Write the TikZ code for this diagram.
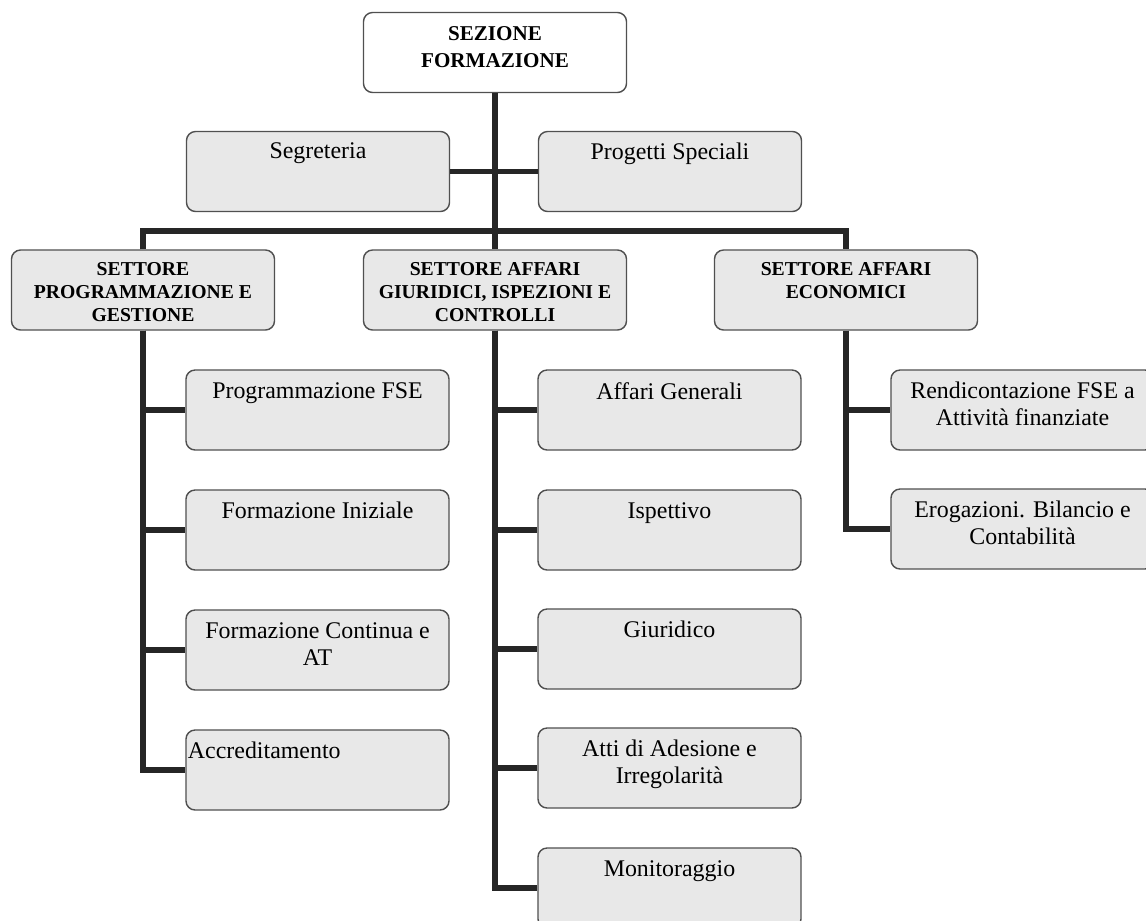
\documentclass[tikz,border=0pt]{standalone}
\usepackage{fontspec}
\setmainfont{Liberation Serif}
\usepackage{tikz}
\usetikzlibrary{positioning}

\definecolor{boxgray}{RGB}{232,232,232}
\definecolor{edgegray}{RGB}{80,80,80}
\definecolor{linkgray}{RGB}{38,38,38}

\begin{document}
\begin{tikzpicture}[x=0.025cm, y=-0.025cm,
    box/.style={draw=edgegray, line width=1pt, fill=boxgray, rounded corners=6.5pt,
        minimum width=6.575cm, minimum height=2cm, inner sep=0pt},
    txt/.style={anchor=north, align=center, inner sep=0pt, font=\fontsize{17}{19.2}\selectfont},
    headtxt/.style={txt, font=\bfseries\fontsize{14}{16.4}\selectfont},
    link/.style={draw=linkgray, line width=4.2pt}]
    \useasboundingbox (0,0) rectangle (1146,921);

    % sezione and staff
    \node[box, fill=white] (sez) at (495,52.5) {};
    \node[box] (seg) at (318,171.5) {};
    \node[box] (prog) at (670,171.5) {};

    % settori
    \node[box] (sprog) at (143,290) {};
    \node[box] (sgiur) at (495,290) {};
    \node[box] (seco) at (846,290) {};

    % uffici
    \node[box] (pfse) at (317.5,410) {};
    \node[box] (fini) at (317.5,530) {};
    \node[box] (fcon) at (317.5,650) {};
    \node[box] (accr) at (317.5,770) {};

    \node[box] (agen) at (669.5,410) {};
    \node[box] (isp) at (669.5,530) {};
    \node[box] (giur) at (669.5,649) {};
    \node[box] (atti) at (669.5,768) {};
    \node[box] (moni) at (669.5,888) {};

    \node[box] (rend) at (1022.5,410) {};
    \node[box] (erog) at (1022.5,529) {};

    % texts
    \node[headtxt, font=\bfseries\fontsize{15}{19.2}\selectfont, below=0.35cm of sez.north] (sez-t) {SEZIONE\\FORMAZIONE};
    \node[txt, below=0.3cm of seg.north] (seg-t) {Segreteria};
    \node[txt, below=0.3cm of prog.north] (prog-t) {Progetti Speciali};

    \node[headtxt, below=0.32cm of sprog.north] (sprog-t) {SETTORE\\PROGRAMMAZIONE E\\GESTIONE};
    \node[headtxt, below=0.32cm of sgiur.north] (sgiur-t) {SETTORE AFFARI\\GIURIDICI, ISPEZIONI E\\CONTROLLI};
    \node[headtxt, below=0.32cm of seco.north] (seco-t) {SETTORE AFFARI\\ECONOMICI};

    \node[txt, below=0.32cm of pfse.north] (pfse-t) {Programmazione FSE};
    \node[txt, below=0.32cm of fini.north] (fini-t) {Formazione Iniziale};
    \node[txt, below=0.32cm of fcon.north] (fcon-t) {Formazione Continua e\\AT};
    \node[txt, anchor=north west, below right=0.32cm and 0.06cm of accr.north west] (accr-t) {Accreditamento};

    \node[txt, below=0.32cm of agen.north] (agen-t) {Affari Generali};
    \node[txt, below=0.32cm of isp.north] (isp-t) {Ispettivo};
    \node[txt, below=0.32cm of giur.north] (giur-t) {Giuridico};
    \node[txt, below=0.32cm of atti.north] (atti-t) {Atti di Adesione e\\Irregolarità};
    \node[txt, below=0.32cm of moni.north] (moni-t) {Monitoraggio};

    \node[txt, below=0.32cm of rend.north] (rend-t) {Rendicontazione FSE a\\Attività finanziate};
    \node[txt, below=0.32cm of erog.north] (erog-t) {Erogazioni. Bilancio e\\Contabilità};

    % connectors
    \coordinate (bus) at (495,231);
    \draw[link] (sez) -- (sgiur);
    \draw[link] (seg) -- (prog);
    \draw[link] (sprog.north) |- (bus) -| (seco.north);
    \foreach \c in {pfse,fini,fcon,accr}
        \draw[link] (sprog.south) |- (\c.west);
    \foreach \c in {agen,isp,giur,atti,moni}
        \draw[link] (sgiur.south) |- (\c.west);
    \foreach \c in {rend,erog}
        \draw[link] (seco.south) |- (\c.west);
\end{tikzpicture}
\end{document}
